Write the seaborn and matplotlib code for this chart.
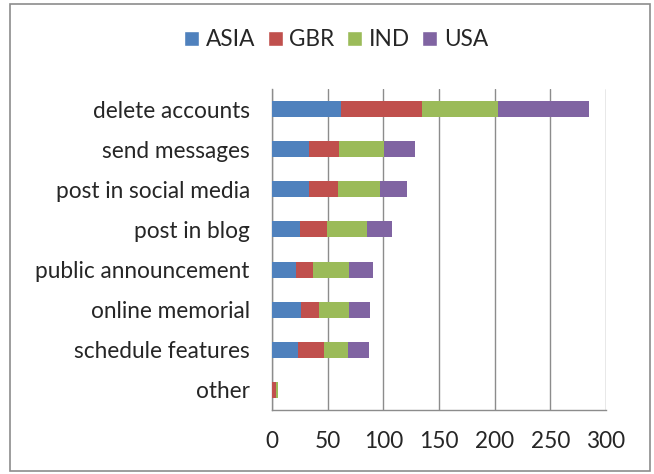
import numpy as np
import pandas as pd
import matplotlib.pyplot as plt
import seaborn as sns
from matplotlib.patches import Patch, Rectangle

# Dados
categorias = ["delete accounts", "send messages", "post in social media", "post in blog",
              "public announcement", "online memorial", "schedule features", "other"]
asia = [62, 33, 33, 25, 22, 26, 23, 0]
gbr = [73, 27, 26, 24, 15, 16, 24, 4]
ind = [68, 41, 38, 36, 32, 27, 21, 1]
usa = [82, 27, 24, 23, 22, 19, 19, 0]
series = ["ASIA", "GBR", "IND", "USA"]
cores = ["#4F81BD", "#C0504D", "#9BBB59", "#8064A2"]

df = pd.DataFrame({"categoria": categorias, "ASIA": asia, "GBR": gbr, "IND": ind, "USA": usa})

sns.set_style("white")
plt.rcParams['font.family'] = ['Lato', 'DejaVu Sans']
fs = 16.3

fig = plt.figure(figsize=(6.54, 4.74), dpi=100)
ax = fig.add_axes([272 / 654, 1 - 410 / 474, 334 / 654, 321 / 474])

# Barras empilhadas: desenha as somas acumuladas da maior para a menor
acum = df[series].cumsum(axis=1)
for s, c in reversed(list(zip(series, cores))):
    sns.barplot(x=acum[s], y=df["categoria"], color=c, width=0.4, orient="h",
                ax=ax, edgecolor="none", saturation=1, zorder=3)

ax.set_xlim(0, 300)
ax.set_xticks(range(0, 301, 50))
ax.set_ylim(7.5, -0.5)
ax.set_xlabel("")
ax.set_ylabel("")
ax.grid(axis="x", color="#8c8c8c", lw=1, zorder=0)
for lado in ["top", "right"]:
    ax.spines[lado].set_visible(False)
for lado in ["left", "bottom"]:
    ax.spines[lado].set_color("#8c8c8c")
    ax.spines[lado].set_linewidth(1)
ax.set_yticks(np.arange(-0.5, 8, 1), minor=True)
ax.tick_params(axis="y", which="major", length=0, labelsize=fs, pad=16)
ax.tick_params(axis="y", which="minor", length=5, color="#8c8c8c", direction="out")
ax.tick_params(axis="x", length=5, color="#8c8c8c", direction="out", labelsize=fs, pad=10)
ax.tick_params(axis="y", which="major", left=False)

# Legenda
handles = [Patch(facecolor=c, label=s) for s, c in zip(series, cores)]
fig.legend(handles=handles, loc="center", bbox_to_anchor=(0.514, 1 - 40 / 474), ncol=4,
           frameon=False, fontsize=fs, handlelength=0.65, handleheight=0.65,
           handletextpad=0.3, columnspacing=0.55)

# Borda do gráfico
fig.patches.append(Rectangle((10 / 654, 3 / 474), 640 / 654, 467 / 474, transform=fig.transFigure,
                             fill=False, edgecolor="#8c8c8c", lw=1.2))

fig.savefig("out.png", dpi=100)
